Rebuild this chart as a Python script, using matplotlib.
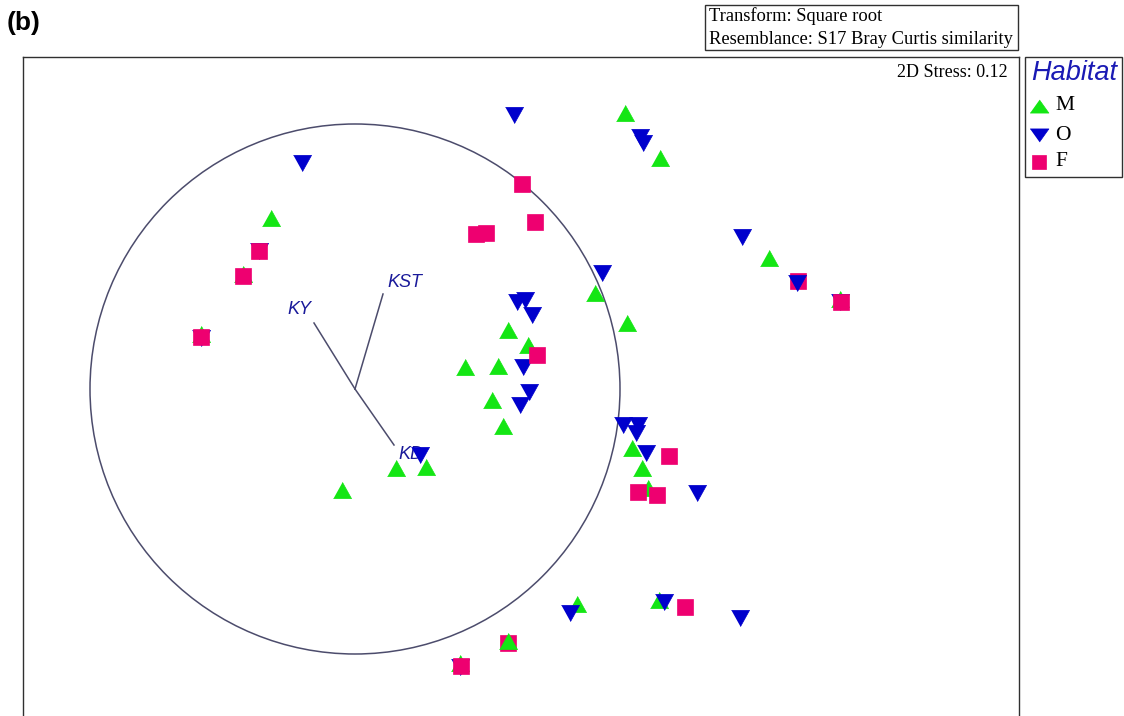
import matplotlib.pyplot as plt
from matplotlib.patches import Circle, Rectangle
from matplotlib.lines import Line2D

# nMDS ordination scores (plot units, y grows downwards)
m_x = [625, 660, 271, 769, 595, 627, 508, 528, 465, 498, 492, 503, 632, 642,
       396, 426, 342, 648, 577, 659, 243, 201, 840, 460]
m_y = [113, 158, 218, 258, 293, 323, 330, 345, 367, 366, 400, 426, 448, 468,
       468, 467, 490, 488, 604, 600, 274, 334, 299, 663]

o_x = [514, 302, 640, 643, 742, 602, 517, 525, 532, 523, 529, 520, 623, 638,
       636, 646, 420, 697, 570, 664, 740, 259, 201, 840, 460]
o_y = [115, 163, 137, 143, 237, 273, 302, 300, 315, 367, 392, 405, 425, 425,
       433, 453, 455, 493, 613, 602, 618, 251, 338, 302, 667]

f_x = [522, 476, 486, 535, 259, 243, 201, 537, 669, 638, 657, 798, 841, 685, 508, 461]
f_y = [184, 234, 233, 222, 251, 276, 337, 355, 456, 492, 495, 281, 302, 607, 643, 666]

# samples plotted after the F group
m_top_x, m_top_y = [508], [641]
o_top_x, o_top_y = [797], [283]

# correlation vectors and circle
origin = (355, 389)
radius = 265
vec_names = ["KY", "KST", "KD"]
vec_x = [314, 383, 394]
vec_y = [323, 294, 445]
lab_x = [287, 387, 398]
lab_y = [310, 283, 455]

habitats = ["M", "O", "F"]
green = "#14e614"
blue = "#0000cc"
pink = "#ee0070"
colors = [green, blue, pink]

up_tri = [(-1, -0.9), (1, -0.9), (0, 0.9)]
down_tri = [(-1, 0.9), (1, 0.9), (0, -0.9)]
markers = [up_tri, down_tri, "s"]
sizes = [13, 13, 11]

# legend keys are flatter than the plotted symbols
leg_up = [(-1, -0.7), (1, -0.7), (0, 0.7)]
leg_down = [(-1, 0.7), (1, 0.7), (0, -0.7)]
leg_markers = [leg_up, leg_down, "s"]
leg_sizes = [13.5, 13.5, 10]
leg_rows = [106, 135, 162]

serif = "Liberation Serif"
sans = "Liberation Sans"


def main():
    fig = plt.figure(figsize=(11.24, 7.16), dpi=100)
    W, H = 1124, 716
    top, bottom = 57, 740
    ax = fig.add_axes([23 / W, 1 - bottom / H, (1019 - 23) / W, (bottom - top) / H])
    ax.set_xlim(23, 1019)
    ax.set_ylim(bottom, top)
    ax.set_xticks([])
    ax.set_yticks([])
    for s in ax.spines.values():
        s.set_color("#303030")
        s.set_linewidth(1.0)

    ax.add_patch(Circle(origin, radius, fill=False, ec="#4c4c6c", lw=1.1, zorder=1))
    for name, vx, vy, lx, ly in zip(vec_names, vec_x, vec_y, lab_x, lab_y):
        ax.plot([origin[0], vx], [origin[1], vy], color="#4c4c6c", lw=1.1, zorder=1)
        ax.text(lx, ly, name, color="#1a1a9a", fontsize=13, style="italic",
                family=sans, va="center", ha="left", zorder=2)

    series = [(m_x, m_y), (o_x, o_y), (f_x, f_y)]
    for i, (xs, ys) in enumerate(series):
        ax.plot(xs, ys, ls="none", marker=markers[i], ms=sizes[i], color=colors[i],
                mec=colors[i], mew=0.5, zorder=3 + i)
    ax.plot(m_top_x, m_top_y, ls="none", marker=up_tri, ms=13, color=green,
            mec=green, mew=0.5, zorder=7)
    ax.plot(o_top_x, o_top_y, ls="none", marker=down_tri, ms=13, color=blue,
            mec=blue, mew=0.5, zorder=7)

    ax.text(1008, 73, "2D Stress: 0.12", fontsize=13, family=serif,
            ha="right", va="center")

    # panel tag
    fig.text(7 / W, 1 - 23 / H, "(b)", fontsize=19, weight="bold", family=sans,
             ha="left", va="center")

    # transform / resemblance box
    fig.add_artist(Rectangle((705 / W, 1 - 50 / H), 313 / W, 45 / H,
                             transform=fig.transFigure, fill=False, ec="#303030", lw=1))
    fig.text(709 / W, 1 - 16 / H, "Transform: Square root", fontsize=13.3,
             family=serif, ha="left", va="center")
    fig.text(709 / W, 1 - 39 / H, "Resemblance: S17 Bray Curtis similarity",
             fontsize=13.3, family=serif, ha="left", va="center")

    # legend
    fig.add_artist(Rectangle((1025 / W, 1 - 177 / H), 97 / W, 120 / H,
                             transform=fig.transFigure, fill=False, ec="#303030", lw=1))
    fig.text(1031 / W, 1 - 73 / H, "Habitat", fontsize=19.5, style="italic",
             family=sans, color="#1a1ab4", ha="left", va="center")
    for i, h in enumerate(habitats):
        y = 1 - leg_rows[i] / H
        fig.add_artist(Line2D([1039 / W], [y], transform=fig.transFigure,
                              ls="none", marker=leg_markers[i], ms=leg_sizes[i],
                              color=colors[i], mec=colors[i], mew=0.5))
        fig.text(1055 / W, y, h, fontsize=15.5, family=serif, ha="left", va="center")

    fig.savefig("out.png", dpi=100)


if __name__ == "__main__":
    main()
